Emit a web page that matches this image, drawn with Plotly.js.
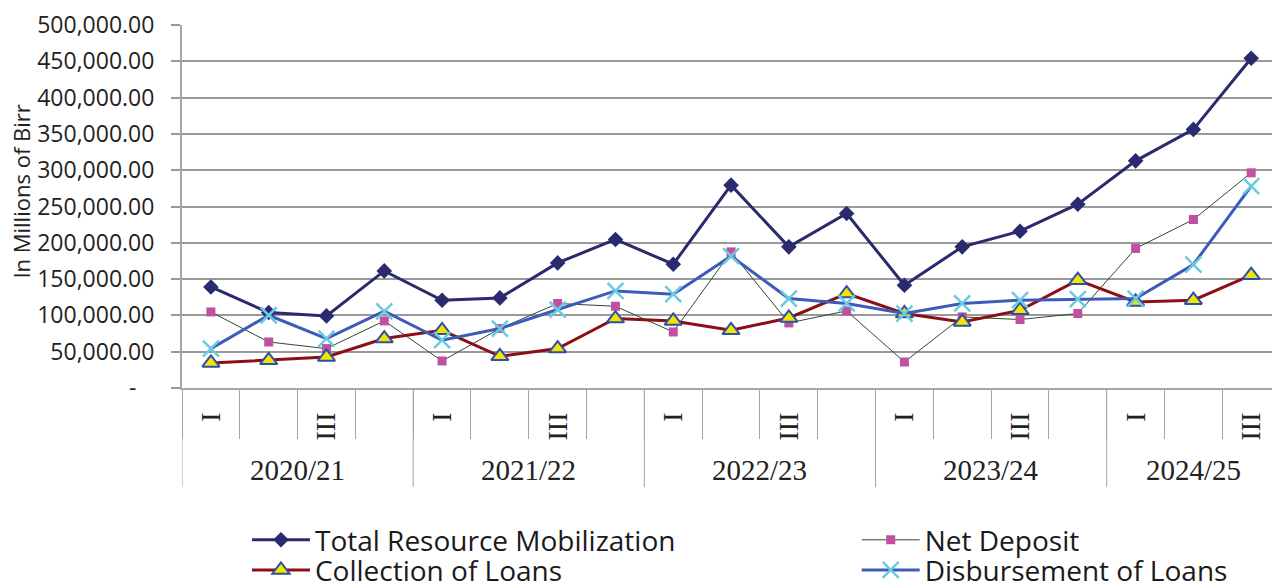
<!DOCTYPE html>
<html>
<head>
<meta charset="utf-8">
<script src="https://cdn.plot.ly/plotly-3.0.1.min.js"></script>
<style>html,body{margin:0;padding:0;background:#fff;}#chart{width:1272px;height:581px;}</style>
</head>
<body>
<div id="chart"></div>
<script>
// ---- data (millions of Birr) ----
const categories = [
  '2020/21 I','2020/21 II','2020/21 III','2020/21 IV',
  '2021/22 I','2021/22 II','2021/22 III','2021/22 IV',
  '2022/23 I','2022/23 II','2022/23 III','2022/23 IV',
  '2023/24 I','2023/24 II','2023/24 III','2023/24 IV',
  '2024/25 I','2024/25 II','2024/25 III'
];
const categoryYear = [
  '2020/21','2020/21','2020/21','2020/21',
  '2021/22','2021/22','2021/22','2021/22',
  '2022/23','2022/23','2022/23','2022/23',
  '2023/24','2023/24','2023/24','2023/24',
  '2024/25','2024/25','2024/25'
];
const quarterTickLabels = ['I','','III','','I','','III','','I','','III','','I','','III','','I','','III'];
const yearLabels = ['2020/21','2021/22','2022/23','2023/24','2024/25'];

const totalResourceMobilization = [139200,103900,99300,161300,120900,124100,172300,204600,170500,279400,194400,240400,141600,194400,216000,253200,312900,356200,454100];
const netDeposit = [104800,63400,54300,92400,37200,81900,116400,112600,77200,187500,89600,106200,35800,97900,94300,102600,192200,232100,296400];
const collectionOfLoans = [34500,38200,42700,68100,79500,43700,54300,95700,92400,79500,96500,130100,102600,91000,107100,148500,118600,120900,155400];
const disbursementOfLoans = [54300,100200,68100,105700,65800,81900,108100,133700,129200,181600,123200,116400,102600,116400,120900,122300,123200,170100,278100];

const yTickValues = [0,50000,100000,150000,200000,250000,300000,350000,400000,450000,500000];
const yTickLabels = ['-\u00a0\u00a0\u00a0','50,000.00','100,000.00','150,000.00','200,000.00','250,000.00','300,000.00','350,000.00','400,000.00','450,000.00','500,000.00'];

// ---- traces ----
const traces = [
  {name:'Total Resource Mobilization', x:categories, y:totalResourceMobilization, type:'scatter', mode:'lines+markers',
   line:{color:'#2a2a6e', width:3}, marker:{symbol:'diamond', size:12, color:'#2a2a6e'}, legend:'legend'},
  {name:'Net Deposit', x:categories, y:netDeposit, type:'scatter', mode:'lines+markers',
   line:{color:'#2f4a2f', width:1}, marker:{symbol:'square', size:9, color:'#c050a0'}, legend:'legend2'},
  {name:'Collection of Loans', x:categories, y:collectionOfLoans, type:'scatter', mode:'lines+markers',
   line:{color:'#8b1015', width:3}, marker:{symbol:'triangle-up', size:15, color:'#f2e600', line:{color:'#2f4fa8', width:2}}, legend:'legend3'},
  {name:'Disbursement of Loans', x:categories, y:disbursementOfLoans, type:'scatter', mode:'lines+markers',
   line:{color:'#3d5cb8', width:3}, marker:{symbol:'x-thin', size:16, color:'#6acbe0', line:{color:'#6acbe0', width:2.5}}, legend:'legend4'}
];

// ---- year groups (from category data) ----
const shapes = [];
const annotations = [];
yearLabels.forEach(yr => {
  const idx = categoryYear.map((c,i)=>c===yr?i:-1).filter(i=>i>=0);
  const start = idx[0], end = idx[idx.length-1];
  shapes.push({type:'line', xref:'x', yref:'paper', x0:start-0.5, x1:start-0.5, y0:0, y1:-0.273,
               line:{color:'#a6a6a6', width:1}});
  annotations.push({text:yr, xref:'x', yref:'paper', x:(start+end)/2, y:-0.226, showarrow:false,
                    xanchor:'center', yanchor:'middle',
                    font:{family:'Liberation Serif, Times New Roman, serif', size:29, color:'#222'}});
});
annotations.push({text:'In Millions of Birr', xref:'paper', yref:'paper', x:-0.1477, y:0.541, textangle:-90,
                  showarrow:false, xanchor:'center', yanchor:'middle',
                  font:{family:'Open Sans, sans-serif', size:22, color:'#222'}});

const legendBase = {bgcolor:'rgba(0,0,0,0)', borderwidth:0, itemwidth:58, xanchor:'left', yanchor:'middle',
                    font:{family:'Open Sans, sans-serif', size:28, color:'#1a1a1a'}, itemclick:false};
const colL = 0.0596, colR = 0.619, row1 = -0.419, row2 = -0.502;

const layout = {
  width:1272, height:581,
  margin:{l:182, r:0, t:25, b:193, autoexpand:false},
  paper_bgcolor:'#fff', plot_bgcolor:'#fff',
  showlegend:true,
  xaxis:{type:'category', range:[-0.5, 18.36], tickmode:'array', tickvals:categories, ticktext:quarterTickLabels,
         tickson:'boundaries', ticks:'outside', ticklen:49, tickcolor:'#a6a6a6', tickwidth:1,
         tickangle:90, ticklabelstandoff:17,
         tickfont:{family:'Liberation Serif, Times New Roman, serif', size:28, color:'#222'},
         showline:true, linecolor:'#a6a6a6', linewidth:2, showgrid:false, zeroline:false, fixedrange:true},
  yaxis:{range:[0,500000], tickmode:'array', tickvals:yTickValues, ticktext:yTickLabels,
         ticks:'outside', ticklen:9, tickcolor:'#999', tickwidth:2, ticklabelstandoff:12,
         tickfont:{family:'Open Sans, sans-serif', size:23, color:'#222'},
         showgrid:true, gridcolor:'#999', gridwidth:2,
         showline:true, linecolor:'#a6a6a6', linewidth:2, zeroline:false, fixedrange:true},
  legend:Object.assign({}, legendBase, {x:colL, y:row1}),
  legend2:Object.assign({}, legendBase, {x:colR, y:row1}),
  legend3:Object.assign({}, legendBase, {x:colL, y:row2}),
  legend4:Object.assign({}, legendBase, {x:colR, y:row2}),
  shapes:shapes,
  annotations:annotations
};

Plotly.newPlot('chart', traces, layout, {displayModeBar:false, staticPlot:true});
</script>
</body>
</html>
